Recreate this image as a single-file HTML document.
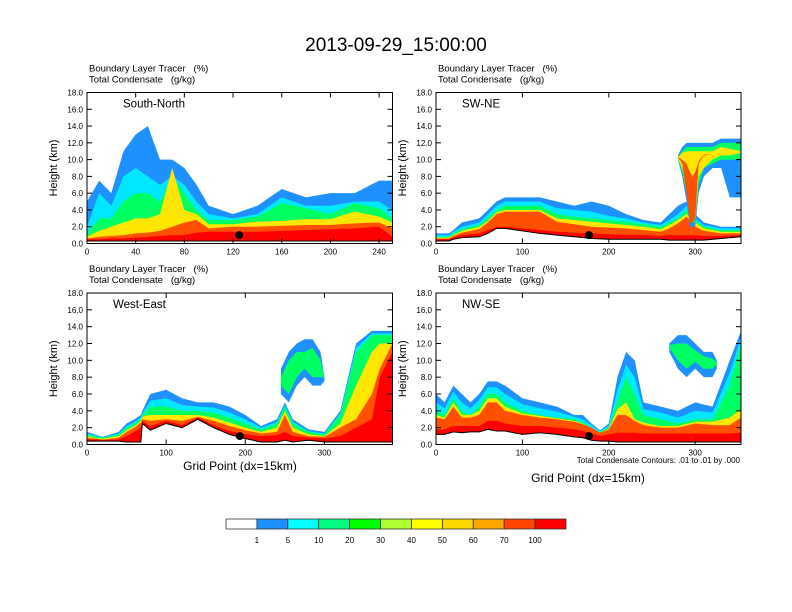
<!DOCTYPE html>
<html><head><meta charset="utf-8">
<style>
body{margin:0;background:#fff;}
svg{display:block;font-family:"Liberation Sans",Helvetica,sans-serif;}
text{white-space:pre;}
</style></head>
<body>
<svg id="fig" width="792" height="612" viewBox="0 0 792 612">
<text x="396" y="51" text-anchor="middle" font-size="19">2013-09-29_15:00:00</text>
</svg>
<script>
// ---------- data ----------
const levelNames = ["blue","cyan","green","yellow","orangered","red"];
const levelColors = ["#1e90ff","#00e8ff","#00ff60","#ffe600","#ff5000","#ff0000"];

const p1X = [0,10,20,30,40,50,60,70,80,90,100,120,140,160,180,200,220,240,251];
const p1Ground = [0.3,0.3,0.3,0.3,0.3,0.3,0.3,0.3,0.3,0.3,0.3,0.3,0.3,0.3,0.3,0.3,0.3,0.3,0.3];
const p1Blue = [5,7.5,6,11,13,14,10,10,9,7,4.5,3.5,4.5,6.5,5.5,6,6,7.5,7.5];
const p1Cyan = [2,6,4.5,8,9,8,7,8,7,5,3.5,3,3.5,5.5,4.5,4.5,5,5,4];
const p1Green = [1.2,3,3,5,6,6,5,8,6,4,2.8,2.8,3.2,4.8,4.2,3.5,4.8,4.2,3];
const p1Yellow = [0.8,1.5,2,2.5,3,3,3.5,9,4,3.5,2.3,2.3,2.6,2.7,2.9,2.9,3.8,3.2,2.5];
const p1Orange = [0.6,0.8,0.9,1,1.2,1.3,1.5,2,2.5,2.8,1.8,2,2,2.1,2.2,2.2,2.4,2.5,1.8];
const p1Red = [0.5,0.5,0.6,0.6,0.7,0.8,0.9,1,1,1.3,1.4,1.4,1.4,1.5,1.6,1.7,1.8,2,0.8];

const p2X = [0,15,20,30,50,60,70,80,100,120,140,160,180,200,220,240,260,270,280,290,300,310,330,353];
const p2Ground = [0.3,0.3,0.5,0.7,0.8,1.2,1.8,1.8,1.5,1.2,1.0,0.8,0.6,0.5,0.5,0.5,0.5,0.4,0.4,0.4,0.4,0.4,0.6,0.8];
const p2Blue = [1.2,1.2,1.6,2.5,3,4,5,5.5,5.5,5.5,5,4.5,5,4.5,3.5,2.8,2.5,3.5,4.5,5,3.5,2.5,2,2];
const p2Cyan = [1,1,1.4,2,2.5,3.5,4.5,5,5,5,4.2,4,3.8,3.3,3,2.5,2.2,2.8,3.5,4.5,3,2.2,1.8,1.8];
const p2Green = [0.8,0.8,1.2,1.7,2.2,3,4,4.5,4.5,4.5,3.5,3.2,3,2.8,2.6,2.3,2,2.5,3,4,2.8,2,1.6,1.6];
const p2Yellow = [0.7,0.7,1,1.5,2,2.7,3.7,4,4,4,3,2.8,2.6,2.4,2.2,2,1.7,2.2,2.8,3.5,2.5,1.8,1.4,1.4];
const p2Orange = [0.6,0.6,0.9,1.3,1.7,2.5,3.5,3.8,3.8,3.8,2.6,2.3,2,1.9,1.8,1.6,1.4,1.8,2.4,3.2,2,1.5,1.2,1.2];
const p2Red = [0.5,0.5,0.7,1,1.2,1.6,2.0,2.0,1.8,1.6,1.4,1.3,1.2,1.1,1.0,1,0.9,1,1,1,1,0.9,0.9,1];
const p2UpX = [280,285,290,294,297,300,304,310,320,330,340,353];
const p2UpBlueBot = [10,8,5,2,2,2,6,8,9,9,5.5,5.5];
const p2UpBlueTop = [10.5,11.5,12,12,12,12,12,12,12,12.5,12.5,12.5];
const p2UpGreenBot = [10,8.5,6,2.5,2.5,2.5,7,9,9.5,10,10,10];
const p2UpGreenTop = [10.3,11,11.5,11.5,11.5,11.5,11.5,11.5,11.5,12,12,12];
const p2UpYellowBot = [10.2,9,7,3,3,3,8,9,10,10.5,10.5,10.8];
const p2UpYellowTop = [10.3,10.8,11,11,11,11,11,11,11,11.5,11.3,11];
const p2UpOrangeBot = [10.3,9.5,6,2.5,2.5,3,9.5,10.5,10.6,10.6,10.8,10.8];
const p2UpOrangeTop = [10.3,10,9.5,8.5,8,8.5,9.8,10.6,10.6,10.6,10.8,10.8];

const p3X = [0,10,20,40,50,60,68,70,80,100,120,140,160,180,200,220,240,250,260,280,300,320,340,360,370,386];
const p3Ground = [0.4,0.4,0.4,0.4,0.3,0.3,0.3,2.5,1.7,2.5,2,3,2,1.2,0.7,0.3,0.3,0.5,0.3,0.5,0.3,0.3,0.3,0.3,0.3,0.3];
const p3Blue = [1.5,1.2,0.9,1.5,2.5,3,3.5,4,6,6.5,5.5,5,5,4.5,3.5,2.2,3,5,3,1.8,1.5,4,12,13.5,13.5,13.5];
const p3Cyan = [1.3,1.1,0.85,1.3,2.2,2.7,3.2,3.7,5.2,5.5,4.7,4.5,4.4,3.8,3,2,2.7,4.7,2.7,1.6,1.3,3.7,11.5,13.2,13.2,13.2];
const p3Green = [1.2,1,0.8,1.2,2,2.5,3,3.5,4.5,4.5,4,4,3.8,3.2,2.5,1.8,2.5,4.5,2.5,1.5,1.2,3.5,11,13,13,13];
const p3Yellow = [1,0.8,0.7,1,1.7,2.2,2.8,3.3,3.5,3.5,3.5,3.5,3.2,2.6,2,1.5,2,4,2,1.2,1,2.5,7,11,12,12];
const p3Orange = [0.8,0.7,0.6,0.8,1.5,2,2.6,3,2.8,3,2.8,3.3,2.8,2.2,1.7,1.3,1.5,3.5,1.5,1,0.9,2,3,6,9,12];
const p3Red = [0.6,0.6,0.5,0.6,1,1.5,2,2.8,2.2,2.8,2.3,3.2,2.3,1.6,1.2,1,1.1,1.5,1,0.8,0.7,1,2,3,8,11];
const p3UpX = [245,255,265,275,285,295,300];
const p3UpBlueBot = [6,5,7,8,7,7,7.5];
const p3UpBlueTop = [9,11,12,12.5,12.5,11,8];
const p3UpGreenBot = [7,6,8,9,8,8,8];
const p3UpGreenTop = [8,10,11,11,11.5,10,8];

const p4X = [0,10,20,30,40,50,60,70,80,100,120,140,160,170,180,190,200,210,220,230,240,260,280,300,320,340,353];
const p4Ground = [1.2,1.2,1.5,1.4,1.5,1.5,1.8,1.6,1.6,1.2,1.4,1.2,0.9,0.8,0.5,0.4,0.4,0.3,0.3,0.3,0.3,0.3,0.3,0.3,0.3,0.3,0.3];
const p4Blue = [6,5,7,6,5,6,7.5,7.5,7,5.5,5,4.5,3.5,3.5,2.5,1.7,2.5,8,11,10,5,4.5,4,5,4.5,10,13.5];
const p4Cyan = [5,4.3,6.3,5,4.3,5.3,6.8,6.8,6,4.8,4.3,3.9,3.3,3,2.3,1.6,2.3,6.5,9.5,8,4.2,3.8,3.2,4,3.8,8.5,12.8];
const p4Green = [4,3.5,5.5,4,3.5,4.5,6,6,5,4,3.5,3.2,3,2.6,2,1.5,2,5,8,6,3.5,3,2.5,3,3,7,12];
const p4Yellow = [3.5,3.2,5,3.5,3.5,4,5.5,5.5,4.5,3.7,3.4,3.1,2.8,2.5,2,1.4,1.9,4.2,5,3,2.6,2.2,2.2,2.7,2.7,3.2,4.2];
const p4Orange = [3.2,3,4.5,3.2,3.2,3.5,5,5,4,3.5,3.2,3,2.7,2.4,2,1.4,1.8,3.5,3.5,2.8,2.3,2,2,2.5,2.3,2.3,3.2];
const p4Red = [1.8,1.8,2.2,2.2,2.2,2.2,2.8,2.8,2.5,2.2,2.2,2,1.8,1.6,1.3,1,1.2,1.4,1.4,1.4,1.3,1.3,1.3,1.3,1.3,1.3,1.4];
const p4UpX = [270,280,290,300,310,320,325];
const p4UpBlueBot = [11,9,8,9,8,8,9];
const p4UpBlueTop = [12,13,13,12,11,11,10];
const p4UpGreenBot = [11.5,10,9,9.8,9,9,9.5];
const p4UpGreenTop = [11.8,12,12,11.2,10.5,10.2,9.8];

const markerX = [125,177,193,177];
const markerH = [1.0,1.0,1.0,1.0];

const cbLabels = ["1","5","10","20","30","40","50","60","70","100"];
const cbColors = ["#ffffff","#1e90ff","#00ffff","#00ff80","#00ff00","#adff2f","#ffff00","#ffd700","#ffa500","#ff4500","#ff0000"];

const yTicks = [0,2,4,6,8,10,12,14,16,18];
const xTicks1 = [0,40,80,120,160,200,240];
const xTicks2 = [0,100,200,300];

// ---------- drawing ----------
const NS = "http://www.w3.org/2000/svg";
const svg = document.getElementById("fig");
function mk(tag, attrs, parent){const e=document.createElementNS(NS,tag);for(const k in attrs)e.setAttribute(k,attrs[k]);(parent||svg).appendChild(e);return e;}

const panels = [
 {name:"south-north",label:"South-North",lx:36,x0:87,x1:392.5,y0:92.5,y1:243.5,xmax:251,xt:xTicks1,X:p1X,G:p1Ground,L:[p1Blue,p1Cyan,p1Green,p1Yellow,p1Orange,p1Red],up:[]},
 {name:"sw-ne",label:"SW-NE",lx:26,x0:436,x1:741,y0:92.5,y1:243.5,xmax:353,xt:xTicks2,X:p2X,G:p2Ground,L:[p2Blue,p2Cyan,p2Green,p2Yellow,p2Orange,p2Red],
  up:[[p2UpX,p2UpBlueBot,p2UpBlueTop,0],[p2UpX,p2UpGreenBot,p2UpGreenTop,2],[p2UpX,p2UpYellowBot,p2UpYellowTop,3],[p2UpX,p2UpOrangeBot,p2UpOrangeTop,4]]},
 {name:"west-east",label:"West-East",lx:26,x0:87,x1:392.5,y0:293,y1:444.5,xmax:386,xt:xTicks2,X:p3X,G:p3Ground,L:[p3Blue,p3Cyan,p3Green,p3Yellow,p3Orange,p3Red],
  up:[[p3UpX,p3UpBlueBot,p3UpBlueTop,0],[p3UpX,p3UpGreenBot,p3UpGreenTop,2]]},
 {name:"nw-se",label:"NW-SE",lx:26,x0:436,x1:741,y0:293,y1:444.5,xmax:353,xt:xTicks2,X:p4X,G:p4Ground,L:[p4Blue,p4Cyan,p4Green,p4Yellow,p4Orange,p4Red],
  up:[[p4UpX,p4UpBlueBot,p4UpBlueTop,0],[p4UpX,p4UpGreenBot,p4UpGreenTop,2]]}
];

panels.forEach((p,pi)=>{
  const sx=v=>p.x0+(v/p.xmax)*(p.x1-p.x0);
  const sy=h=>p.y1-(h/18)*(p.y1-p.y0);
  const g=mk("g",{});
  
  
  const clipId="clip"+pi;
  const cp=mk("clipPath",{id:clipId},g);
  mk("rect",{x:p.x0,y:p.y0,width:p.x1-p.x0,height:p.y1-p.y0},cp);
  const fills=mk("g",{"clip-path":"url(#"+clipId+")"},g);
  function band(X,bot,top,ci,nm){
    let d="M"+sx(X[0])+","+sy(top[0]);
    for(let i=1;i<X.length;i++)d+="L"+sx(X[i])+","+sy(top[i]);
    for(let i=X.length-1;i>=0;i--)d+="L"+sx(X[i])+","+sy(bot[i]);
    const e=mk("path",{d:d+"Z",fill:levelColors[ci]},fills);
    
    
  }
  p.L.forEach((arr,li)=>band(p.X,p.G,arr,li,"tracer-"+levelNames[li]+"-area"));
  p.up.forEach(u=>band(u[0],u[1],u[2],u[3],"upper-cloud-"+levelNames[u[3]]));
  let td="M"+sx(p.X[0])+","+sy(p.G[0]);
  for(let i=1;i<p.X.length;i++)td+="L"+sx(p.X[i])+","+sy(p.G[i]);
  const tl=mk("path",{d:td,fill:"none",stroke:"#000","stroke-width":1},fills);
  
  
  const m=mk("circle",{cx:sx(markerX[pi]),cy:sy(markerH[pi]),r:4,fill:"#000"},g);
  
  
  const fr=mk("rect",{x:p.x0,y:p.y0,width:p.x1-p.x0,height:p.y1-p.y0,fill:"none",stroke:"#000","stroke-width":1},g);
  
  
  yTicks.forEach(t=>{
    const y=sy(t);
    mk("line",{x1:p.x0,x2:p.x0+5,y1:y,y2:y,stroke:"#000"},g);
    mk("line",{x1:p.x1,x2:p.x1-5,y1:y,y2:y,stroke:"#000"},g);
    const tx=mk("text",{x:p.x0-4,y:y+3,"text-anchor":"end","font-size":8},g);
    tx.textContent=t.toFixed(1);
    
    
  });
  p.xt.forEach(t=>{
    const x=sx(t);
    mk("line",{x1:x,x2:x,y1:p.y1,y2:p.y1-5,stroke:"#000"},g);
    mk("line",{x1:x,x2:x,y1:p.y0,y2:p.y0+5,stroke:"#000"},g);
    const tx=mk("text",{x:x,y:p.y1+11,"text-anchor":"middle","font-size":8},g);
    tx.textContent=t;
    
    
  });
  const yt=mk("text",{x:0,y:0,"text-anchor":"middle","font-size":11,transform:"translate("+(p.x0-30)+","+((p.y0+p.y1)/2)+") rotate(-90)"},g);
  yt.textContent="Height (km)";
  
  
  const t1=mk("text",{x:p.x0+2,y:p.y0-21,"font-size":9.5},g);
  t1.textContent="Boundary Layer Tracer   (%)";
  
  
  const t2=mk("text",{x:p.x0+2,y:p.y0-10,"font-size":9.5},g);
  t2.textContent="Total Condensate   (g/kg)";
  
  
  const lb=mk("text",{x:p.x0+p.lx,y:p.y0+15,"font-size":11.5},g);
  lb.textContent=p.label;
  
  
});

const xa1=mk("text",{x:240,y:470,"text-anchor":"middle","font-size":12});
xa1.textContent="Grid Point (dx=15km)";


const cn=mk("text",{x:740,y:463,"text-anchor":"end","font-size":8});
cn.textContent="Total Condensate Contours: .01 to .01 by .000";


const xa2=mk("text",{x:588,y:482,"text-anchor":"middle","font-size":12});
xa2.textContent="Grid Point (dx=15km)";



const cb=mk("g",{});


const cbx0=226, cbx1=566, bw=(cbx1-cbx0)/cbColors.length;
cbColors.forEach((c,i)=>{
  const r=mk("rect",{x:cbx0+i*bw,y:519,width:bw,height:10,fill:c,stroke:"#333","stroke-width":0.8},cb);
  
  
});
cbLabels.forEach((l,i)=>{
  const t=mk("text",{x:cbx0+(i+1)*bw,y:543,"text-anchor":"middle","font-size":8},cb);
  t.textContent=l;
  
  
});
</script>
</body></html>
